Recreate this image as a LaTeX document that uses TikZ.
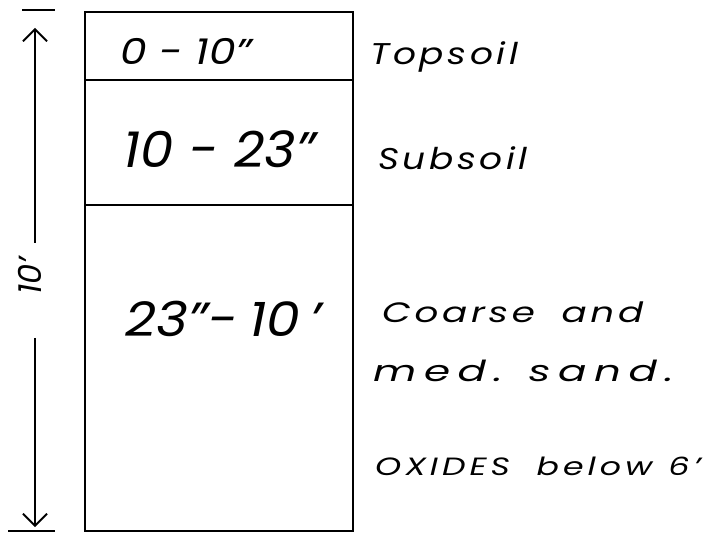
\documentclass[tikz,border=0pt]{standalone}
\usepackage{fontspec}
\setmainfont{Poppins}
\usetikzlibrary{arrows.meta}
\newcommand{\hw}[4]{\scalebox{#3}[1]{\fontsize{#1}{#1}\selectfont\addfontfeature{LetterSpace=#2}#4}}
\begin{document}
\begin{tikzpicture}[x=1pt,y=-1pt,
  ink/.style={line width=2.4pt, black},
  hand/.style={inner sep=0pt, anchor=base west, font=\itshape},
  dimtip/.style={-{Straight Barb[length=12pt,width=24pt,line width=1.8pt]}}]
\useasboundingbox (0,0) rectangle (709,534);
% box
\draw[ink] (85,12) rectangle (353,531);
\draw[ink] (85,80) -- (353,80);
\draw[ink] (85,205) -- (353,205);
% dimension
\coordinate (dtop) at (35,28);
\coordinate (dbot) at (35,527);
\draw[ink] (22,10) -- (55,10);
\draw[ink] (8,531) -- (55,531);
\node[rotate=90, font=\itshape\fontsize{32}{32}\selectfont, inner sep=4pt] (dimlab) at (30,276) {10\symbol{39}};
\draw[ink,dimtip] (35,243) -- (dtop);
\draw[ink,dimtip] (35,338) -- (dbot);
% depth labels
\node[hand] (d1) at (120,65) {\hw{36}{0}{1.18}{0 - 10\symbol{34}}};
\node[hand] (d2) at (123,168) {\hw{50}{0}{1.06}{10 - 23\symbol{34}}};
\node[hand] (d3) at (125,337) {\hw{48}{0}{1.12}{23\symbol{34}-\hspace{10pt}10\hspace{8pt}\symbol{39}}};
% descriptions
\node[hand] (t1) at (370,65) {\hw{30}{10}{1.2}{Topsoil}};
\node[hand] (t2) at (378,170) {\hw{30}{10}{1.2}{Subsoil}};
\node[hand] (t3) at (382,323) {\hw{28}{10}{1.33}{Coarse\hspace{20pt}and}};
\node[hand] (t4) at (373,381) {\hw{29}{18}{1.45}{med.\hspace{18pt}sand.}};
\node[hand] (t5) at (375,475) {\hw{25}{12}{1.33}{OXIDES\hspace{20pt}below\hspace{12pt}6\symbol{39}}};
\end{tikzpicture}
\end{document}
